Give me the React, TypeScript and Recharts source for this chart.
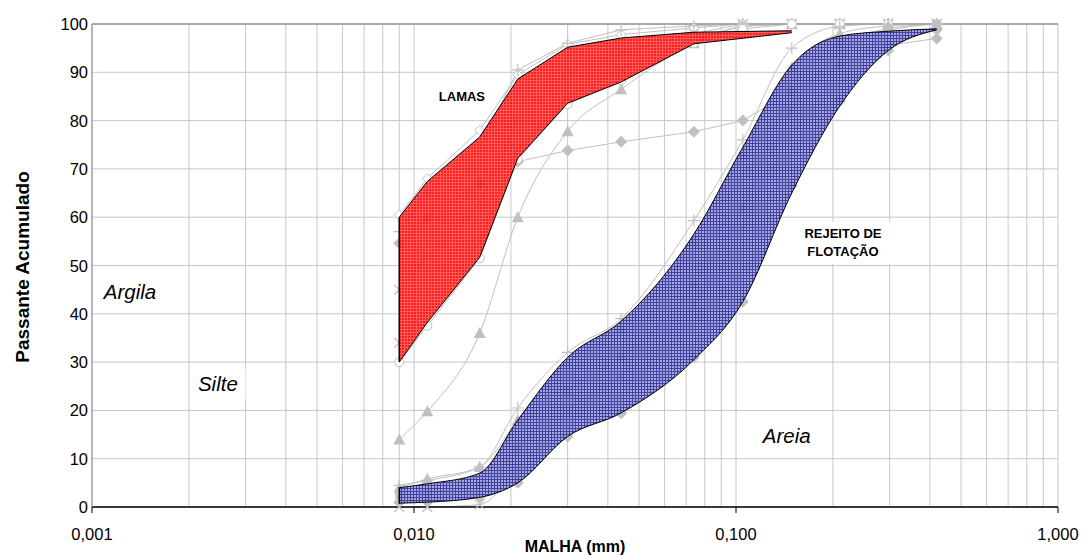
import React from 'react';
import {
  ComposedChart,
  Line,
  Area,
  XAxis,
  YAxis,
  CartesianGrid,
  ReferenceDot,
  ReferenceLine,
} from 'recharts';

// ---------- data ----------
const sizes = [0.009, 0.011, 0.016, 0.021, 0.03, 0.044, 0.074, 0.105, 0.149, 0.21, 0.297, 0.42];

// LAMAS samples (passante acumulado, %)
const lamasTop = [60.5, 68, 78, 89.5, 95.8, 97.8, 99.2, 100, 100, 100, 100, 100];
const lamasPlus = [57, 65, 74.5, 90.5, 96, 98.8, 99.6, 100, 100, 100, 100, 100];
const lamasMidA = [45, 52, 63, 80, 90, 94, 98, 100, 100, 100, 100, 100];
const lamasMidB = [34, 41, 55, 74, 85, 90.5, 97, 99.5, 100, 100, 100, 100];
const lamasLow = [30, 37.5, 51.5, 72, 83.4, 88.3, 96, 99, 100, 100, 100, 100];
const lamasTri = [14, 19.8, 36, 60, 77.8, 86.5, 96, 99.5, 100, 100, 100, 100];
const lamasDiamond = [54.6, 59.8, 67, 71.5, 73.8, 75.6, 77.7, 80, 86, 91.5, 95.6, 97];

// REJEITO DE FLOTAÇÃO samples
const rejTop = [4.5, 5.5, 8.3, 20.5, 32, 39, 59.3, 76, 95, 99.5, 100, 100];
const rejTri = [4, 5.8, 8.3, 18, 30, 37, 55, 73, 91, 98, 99.6, 100];
const rejMidA = [2.5, 3, 4.5, 12, 24, 31, 46, 62, 86, 96, 99, 100];
const rejMidB = [0, 0, 0.5, 8, 20, 27, 42, 58, 82, 94, 98.5, 100];
const rejLow = [1, 1.2, 2, 5, 14.6, 19.4, 31, 42.5, 66.5, 84, 94.5, 98.8];

// envelopes
const lamasBandX = [0.009, 0.011, 0.016, 0.021, 0.03, 0.044, 0.074, 0.149];
const lamasBandHigh = [60, 67.4, 76.6, 88.6, 95.2, 97.1, 98.3, 98.6];
const lamasBandLow = [30, 38.2, 51.7, 72.2, 83.6, 88, 95.9, 98.2];
const rejBandX = [0.009, 0.011, 0.016, 0.021, 0.03, 0.044, 0.074, 0.105, 0.149, 0.21, 0.297, 0.42];
const rejBandHigh = [4, 4.8, 7, 18, 31, 38.5, 56.5, 74.5, 91.5, 97.5, 98.5, 99];
const rejBandLow = [0.8, 1, 2, 5, 14.6, 19.5, 30.5, 42.5, 65, 83, 94.5, 98.8];

// axes
const xDecades = [0.001, 0.01, 0.1, 1];
const xTickLabels = ['0,001', '0,010', '0,100', '1,000'];
const yTicks = [0, 10, 20, 30, 40, 50, 60, 70, 80, 90, 100];

// text annotations
const annX = [0.01409, 0.2148, 0.001312, 0.00246, 0.1438];
const annY = [84.9, 54.7, 44.7, 25.5, 14.7];
const annText = [['LAMAS'], ['REJEITO DE', 'FLOTAÇÃO'], ['Argila'], ['Silte'], ['Areia']];

// ---------- helpers ----------
const FONT = '"Liberation Sans", Arial, Helvetica, sans-serif';
const GRAY = '#c0c0c0';

const xTicks: number[] = [];
xDecades.slice(0, 3).forEach((d) => {
  for (let k = 1; k <= 9; k++) xTicks.push(+(k * d).toPrecision(3));
});
xTicks.push(1);

const toRows = (xs: number[], ys: number[]) => xs.map((x, i) => ({ x, y: ys[i] }));
const toBand = (xs: number[], lo: number[], hi: number[]) =>
  xs.map((x, i) => ({ x, range: [lo[i], hi[i]] }));

const samples = [
  { key: 'lamasDiamond', values: lamasDiamond, shape: 'diamond', curve: 'linear' },
  { key: 'lamasTri', values: lamasTri, shape: 'triangle', curve: 'monotone' },
  { key: 'lamasTop', values: lamasTop, shape: 'hdiamond', curve: 'linear' },
  { key: 'lamasPlus', values: lamasPlus, shape: 'plus', curve: 'linear' },
  { key: 'lamasMidA', values: lamasMidA, shape: 'x', curve: 'linear' },
  { key: 'lamasMidB', values: lamasMidB, shape: 'x', curve: 'linear' },
  { key: 'lamasLow', values: lamasLow, shape: 'circle', curve: 'linear' },
  { key: 'rejTop', values: rejTop, shape: 'plus', curve: 'monotone' },
  { key: 'rejTri', values: rejTri, shape: 'triangle', curve: 'monotone' },
  { key: 'rejMidA', values: rejMidA, shape: 'square', curve: 'monotone' },
  { key: 'rejMidB', values: rejMidB, shape: 'x', curve: 'monotone' },
  { key: 'rejLow', values: rejLow, shape: 'diamond', curve: 'monotone' },
];

const makeDot = (shape: string) => (props: any) => {
  const { cx, cy, index } = props;
  const k = `d${index}`;
  if (cx == null || cy == null || isNaN(cx) || isNaN(cy)) return <g key={k} />;
  switch (shape) {
    case 'triangle':
      return <polygon key={k} points={`${cx},${cy - 6} ${cx - 6},${cy + 5} ${cx + 6},${cy + 5}`} fill={GRAY} />;
    case 'diamond':
      return <polygon key={k} points={`${cx},${cy - 6} ${cx + 6},${cy} ${cx},${cy + 6} ${cx - 6},${cy}`} fill={GRAY} />;
    case 'hdiamond':
      return (
        <polygon key={k} points={`${cx},${cy - 5} ${cx + 5},${cy} ${cx},${cy + 5} ${cx - 5},${cy}`} fill="#fff" stroke={GRAY} />
      );
    case 'circle':
      return <circle key={k} cx={cx} cy={cy} r={4.5} fill="#fff" stroke={GRAY} />;
    case 'square':
      return <rect key={k} x={cx - 4} y={cy - 4} width={8} height={8} fill={GRAY} />;
    case 'plus':
      return (
        <path key={k} d={`M${cx - 6},${cy}L${cx + 6},${cy}M${cx},${cy - 6}L${cx},${cy + 6}`} stroke={GRAY} strokeWidth={1.2} />
      );
    default:
      return (
        <path
          key={k}
          d={`M${cx - 5},${cy - 5}L${cx + 5},${cy + 5}M${cx + 5},${cy - 5}L${cx - 5},${cy + 5}`}
          stroke={GRAY}
          strokeWidth={1.2}
        />
      );
  }
};

const XTick = (props: any) => {
  const { x, y, payload } = props;
  const idx = xDecades.indexOf(payload.value);
  if (idx < 0) return <g />;
  return (
    <g>
      <line x1={x} x2={x} y1={y} y2={y + 6} stroke="#000" />
      <text x={x} y={y + 27} textAnchor="middle" dominantBaseline="central" fontSize={16.5} fill="#000" fontFamily={FONT}>
        {xTickLabels[idx]}
      </text>
    </g>
  );
};

const YTick = (props: any) => {
  const { x, y, payload } = props;
  return (
    <text x={x - 4} y={y} textAnchor="end" dominantBaseline="central" fontSize={16.5} fill="#000" fontFamily={FONT}>
      {payload.value}
    </text>
  );
};

const Patterns = () => (
  <defs>
    <pattern id="redHatch" width="3" height="3" patternUnits="userSpaceOnUse">
      <rect width="3" height="3" fill="#ff0000" />
      <rect x="2" y="0" width="1" height="3" fill="#ff4646" />
      <rect x="0" y="2" width="3" height="1" fill="#ff4646" />
    </pattern>
    <pattern id="blueHatch" width="3" height="3" patternUnits="userSpaceOnUse">
      <rect width="3" height="3" fill="#9c9cdc" />
      <rect x="2" y="0" width="1" height="3" fill="#282894" />
      <rect x="0" y="2" width="3" height="1" fill="#282894" />
    </pattern>
  </defs>
);

const makeAnn = (lines: string[], idx: number) => (props: any) => {
  const vb = props.viewBox || {};
  const cx = (vb.x || 0) + (vb.width || 0) / 2;
  const cy = (vb.y || 0) + (vb.height || 0) / 2;
  const bold = idx < 2;
  const fs = bold ? 13 : 20.5;
  const lh = bold ? 18 : 24;
  const maxLen = Math.max(...lines.map((l) => l.length));
  const w = maxLen * fs * (bold ? 0.7 : 0.46) + 8;
  const h = lines.length * lh + 6;
  return (
    <g>
      <rect x={cx - w / 2} y={cy - h / 2} width={w} height={h} fill="#fff" />
      {lines.map((l, i) => (
        <text
          key={i}
          x={cx}
          y={cy + (i - (lines.length - 1) / 2) * lh}
          textAnchor="middle"
          dominantBaseline="central"
          fontSize={fs}
          fontWeight={bold ? 'bold' : 'normal'}
          fontStyle={bold ? 'normal' : 'italic'}
          fill="#000"
          fontFamily={FONT}
        >
          {l}
        </text>
      ))}
    </g>
  );
};

const bandZ: any = { zIndex: 1500 };

export default function App() {
  return (
    <div style={{ width: 1089, height: 555, background: '#fff' }}>
      <style>{'html,body{margin:0;padding:0;overflow:hidden;background:#fff}'}</style>
      <ComposedChart width={1089} height={555} margin={{ top: 24, right: 31, bottom: 0, left: 0 }}>
        <CartesianGrid stroke="#c8c8c8" strokeWidth={1} />
        <XAxis
          dataKey="x"
          type="number"
          scale="log"
          domain={[0.001, 1]}
          allowDataOverflow
          ticks={xTicks}
          interval={0}
          height={48}
          tickSize={0}
          tickMargin={0}
          tick={<XTick />}
          axisLine={{ stroke: '#000', strokeWidth: 1.5 }}
          tickLine={false}
          label={(p: any) => (
            <text x={575} y={546} textAnchor="middle" dominantBaseline="central" fontSize={16} fontWeight="bold" fill="#000" fontFamily={FONT}>
              MALHA (mm)
            </text>
          )}
        />
        <YAxis
          type="number"
          domain={[0, 100]}
          ticks={yTicks}
          interval={0}
          width={92}
          tickSize={0}
          tickMargin={0}
          tick={<YTick />}
          axisLine={{ stroke: '#888' }}
          tickLine={false}
          label={(p: any) => (
            <g>
              <Patterns />
              <text
                x={22}
                y={267}
                transform="rotate(-90 22 267)"
                textAnchor="middle"
                dominantBaseline="central"
                fontSize={19}
                fontWeight="bold"
                fill="#000"
                fontFamily={FONT}
              >
                Passante Acumulado
              </text>
            </g>
          )}
        />
        <ReferenceLine y={100} stroke="#a8a8a8" strokeWidth={2} />
        {samples.map((s) => (
          <Area
            key={s.key}
            data={toRows(sizes, s.values)}
            dataKey="y"
            type={s.curve as any}
            stroke={GRAY}
            strokeWidth={1}
            fill="none"
            fillOpacity={0}
            dot={makeDot(s.shape)}
            activeDot={false}
            isAnimationActive={false}
            legendType="none"
          />
        ))}
        <Area
          {...bandZ}
          data={toBand(lamasBandX, lamasBandLow, lamasBandHigh)}
          dataKey="range"
          type="linear"
          fill="url(#redHatch)"
          fillOpacity={0.88}
          stroke="#000"
          strokeWidth={1}
          isAnimationActive={false}
          activeDot={false}
        />
        <Area
          {...bandZ}
          data={toBand(rejBandX, rejBandLow, rejBandHigh)}
          dataKey="range"
          type="monotone"
          fill="url(#blueHatch)"
          fillOpacity={0.88}
          stroke="#000"
          strokeWidth={1}
          isAnimationActive={false}
          activeDot={false}
        />
        <Line
          {...bandZ}
          data={[
            { x: lamasBandX[0], y: lamasBandLow[0] },
            { x: lamasBandX[0], y: lamasBandHigh[0] },
          ]}
          dataKey="y"
          type="linear"
          stroke="#000"
          strokeWidth={1.5}
          dot={false}
          activeDot={false}
          isAnimationActive={false}
        />
        <Line
          {...bandZ}
          data={[
            { x: rejBandX[0], y: rejBandLow[0] },
            { x: rejBandX[0], y: rejBandHigh[0] },
          ]}
          dataKey="y"
          type="linear"
          stroke="#000"
          strokeWidth={1.5}
          strokeLinecap="round"
          dot={false}
          activeDot={false}
          isAnimationActive={false}
        />
        {annText.map((lines, i) => (
          <ReferenceDot
            key={i}
            x={annX[i]}
            y={annY[i]}
            r={0}
            fill="none"
            stroke="none"
            label={makeAnn(lines, i)}
          />
        ))}
      </ComposedChart>
    </div>
  );
}
